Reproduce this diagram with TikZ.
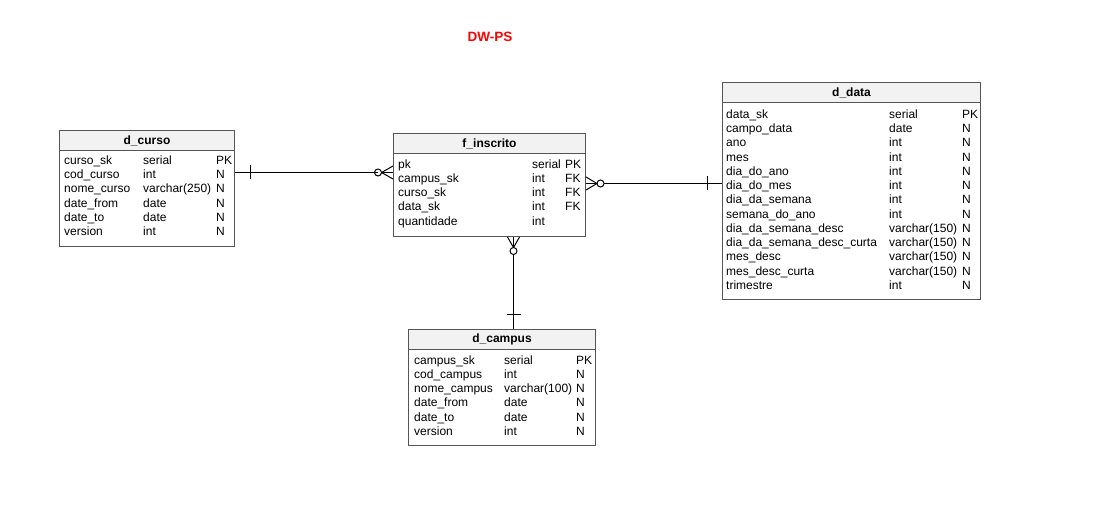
\documentclass[tikz,border=0pt]{standalone}
\usepackage{fontspec}
\setmainfont{Liberation Sans}
\definecolor{hdrfill}{HTML}{F2F2F2}
\definecolor{border}{HTML}{555555}
\definecolor{titlered}{HTML}{FF0000}
\begin{document}
\begin{tikzpicture}[x=1pt,y=-1pt,
  tbl/.style={draw=border, line width=1pt, anchor=north west, inner sep=0pt, fill=white},
  hdr/.style={draw=border, line width=1pt, fill=hdrfill, anchor=north west, inner sep=0pt,
    minimum height=20pt, font=\fontsize{12}{14}\selectfont\bfseries},
  cell/.style={anchor=west, inner sep=0pt, text height=9pt, text depth=3pt,
    font=\fontsize{12}{14}\selectfont},
  rel/.style={draw=black, line width=1pt},
  ttl/.style={text=titlered, font=\fontsize{13.5}{16}\selectfont\bfseries, inner sep=0pt}
]
\useasboundingbox (0,0) rectangle (1101,508);

\node[ttl] (title) at (490,37) {DW-PS};

% d_curso
\node[tbl, minimum width=175pt, minimum height=116pt] (curso) at (59,130) {};
\node[hdr, minimum width=175pt] (curso-h) at (curso.north west) {d\_curso};
\foreach \n/\t/\f [count=\i] in {curso\_sk/serial/PK, cod\_curso/int/N, nome\_curso/{varchar(250)}/N, date\_from/date/N, date\_to/date/N, version/int/N}{
  \node[cell] (curso-n\i) at (64,{161.8+14.1*(\i-1)}) {\n};
  \node[cell] (curso-t\i) at (143,{161.8+14.1*(\i-1)}) {\t};
  \node[cell] (curso-f\i) at (216,{161.8+14.1*(\i-1)}) {\f};
}

% f_inscrito
\node[tbl, minimum width=192pt, minimum height=103pt] (fi) at (393,133) {};
\node[hdr, minimum width=192pt] (fi-h) at (fi.north west) {f\_inscrito};
\foreach \n/\t/\f [count=\i] in {pk/serial/PK, campus\_sk/int/FK, curso\_sk/int/FK, data\_sk/int/FK, quantidade/int/{}}{
  \node[cell] (fi-n\i) at (398,{165.3+14.2*(\i-1)}) {\n};
  \node[cell] (fi-t\i) at (532,{165.3+14.2*(\i-1)}) {\t};
  \node[cell] (fi-f\i) at (565,{165.3+14.2*(\i-1)}) {\f};
}

% d_campus
\node[tbl, minimum width=187pt, minimum height=116pt] (campus) at (408,329) {};
\node[hdr, minimum width=187pt] (campus-h) at (campus.north west) {d\_campus};
\foreach \n/\t/\f [count=\i] in {campus\_sk/serial/PK, cod\_campus/int/N, nome\_campus/{varchar(100)}/N, date\_from/date/N, date\_to/date/N, version/int/N}{
  \node[cell] (campus-n\i) at (414,{361.3+14.2*(\i-1)}) {\n};
  \node[cell] (campus-t\i) at (504,{361.3+14.2*(\i-1)}) {\t};
  \node[cell] (campus-f\i) at (576,{361.3+14.2*(\i-1)}) {\f};
}

% d_data
\node[tbl, minimum width=258pt, minimum height=217pt] (data) at (722,82) {};
\node[hdr, minimum width=258pt] (data-h) at (data.north west) {d\_data};
\foreach \n/\t/\f [count=\i] in {data\_sk/serial/PK, campo\_data/date/N, ano/int/N, mes/int/N, dia\_do\_ano/int/N, dia\_do\_mes/int/N, dia\_da\_semana/int/N, semana\_do\_ano/int/N, dia\_da\_semana\_desc/{varchar(150)}/N, dia\_da\_semana\_desc\_curta/{varchar(150)}/N, mes\_desc/{varchar(150)}/N, mes\_desc\_curta/{varchar(150)}/N, trimestre/int/N}{
  \node[cell] (data-n\i) at (726,{115.3+14.25*(\i-1)}) {\n};
  \node[cell] (data-t\i) at (889,{115.3+14.25*(\i-1)}) {\t};
  \node[cell] (data-f\i) at (962,{115.3+14.25*(\i-1)}) {\f};
}

% connector endpoints on table borders
\coordinate (c1a) at ([yshift=16pt]curso.east);
\coordinate (c1b) at ([yshift=12.5pt]fi.west);
\coordinate (c2a) at ([yshift=1.5pt]fi.east);
\coordinate (c2b) at ([yshift=7.5pt]data.west);
\coordinate (c3a) at ([xshift=24pt]fi.south);
\coordinate (c3b) at ([xshift=11.5pt]campus.north);

% d_curso -- f_inscrito
\draw[rel] (c1a) -- ([xshift=-15pt]c1b);
\draw[rel] (c1a) ++(15,-7) -- ++(0,14);
\draw[rel] (c1b) ++(-15,0) circle (3.5pt);
\draw[rel] (c1b) ++(-11.5,0) -- (c1b);
\draw[rel] (c1b) ++(-11.5,0) -- ++(11.5,-6.5);
\draw[rel] (c1b) ++(-11.5,0) -- ++(11.5,6.5);

% f_inscrito -- d_data
\draw[rel] ([xshift=18pt]c2a) -- (c2b);
\draw[rel] (c2b) ++(-15,-7) -- ++(0,14);
\draw[rel] (c2a) ++(14.5,0) circle (3.5pt);
\draw[rel] (c2a) ++(11,0) -- (c2a);
\draw[rel] (c2a) ++(11,0) -- ++(-11,-6.5);
\draw[rel] (c2a) ++(11,0) -- ++(-11,6.5);

% f_inscrito -- d_campus
\draw[rel] ([yshift=-17.5pt]c3a) -- (c3b);
\draw[rel] (c3b) ++(-7,-15) -- ++(14,0);
\draw[rel] (c3a) ++(0,14) circle (3.5pt);
\draw[rel] (c3a) ++(0,10.5) -- (c3a);
\draw[rel] (c3a) ++(0,10.5) -- ++(-6,-10.5);
\draw[rel] (c3a) ++(0,10.5) -- ++(6,-10.5);
\end{tikzpicture}
\end{document}
